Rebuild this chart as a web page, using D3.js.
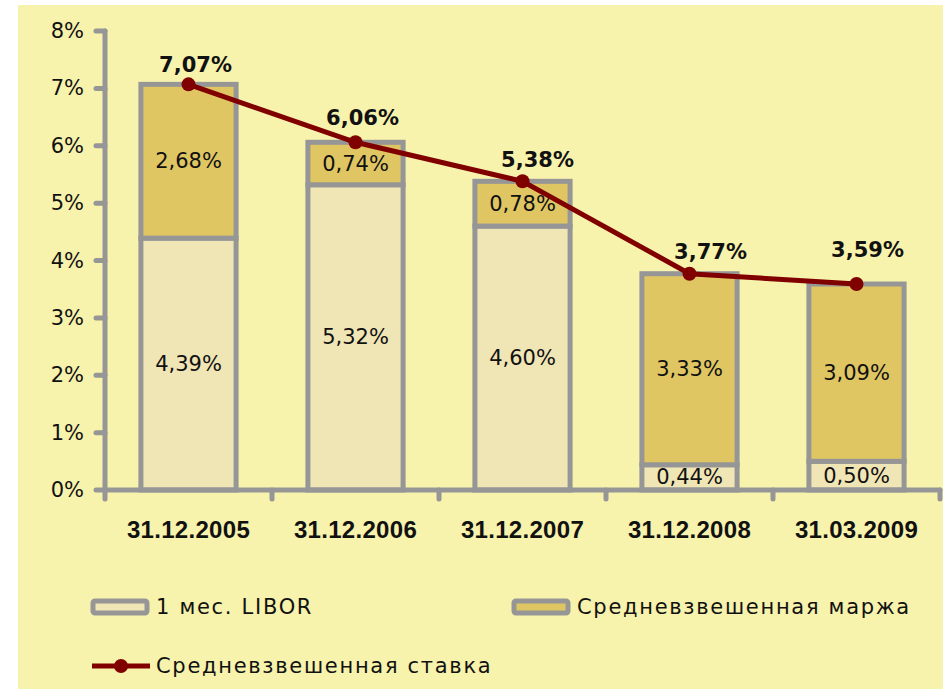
<!DOCTYPE html>
<html>
<head>
<meta charset="utf-8">
<script src="https://cdn.jsdelivr.net/npm/d3@7"></script>
<style>
  body { margin: 0; background: #ffffff; }
  text { fill: #111; }
  .thin { font-family: "DejaVu Sans", sans-serif; }
  .bold { font-family: "DejaVu Sans", sans-serif; font-weight: bold; }
  .xlab { font-family: "Liberation Sans", Arial, sans-serif; font-weight: bold; }
</style>
</head>
<body>
<div id="chart"></div>
<script>
    "use strict";

    // Chart data
    let dates = ["31.12.2005", "31.12.2006", "31.12.2007", "31.12.2008", "31.03.2009"],
        libor = [4.39, 5.32, 4.60, 0.44, 0.50], // 1 мес. LIBOR
        margin = [2.68, 0.74, 0.78, 3.33, 3.09], // Средневзвешенная маржа
        rate = [7.07, 6.06, 5.38, 3.77, 3.59], // Средневзвешенная ставка
        yTicks = [0, 1, 2, 3, 4, 5, 6, 7, 8];

    let config = {
            width: 943,
            height: 689,
            grey: "#969696",
            liborColor: "#F0E5B4",
            marginColor: "#DFC663",
            lineColor: "#800000",
            background: "#F7F2AC",
            // hand-placed rate labels (offset from each point, px)
            labelNudge: [[7, -19], [7, -24], [15, -21], [21, -22], [11, -34]]
        },
        fmt = v => v.toFixed(2).replace(".", ",") + "%";

    let svg = d3.select("#chart")
        .append("svg")
        .attr("width", config.width)
        .attr("height", config.height);

    // Background panel
    svg.append("rect")
        .attr("x", 18)
        .attr("y", 5)
        .attr("width", config.width - 18)
        .attr("height", config.height - 5)
        .style("fill", config.background);

    let x = d3.scaleBand()
        .domain(dates)
        .range([105, 940])
        .paddingInner(0.43)
        .paddingOuter(0.215);

    let y = d3.scaleLinear()
        .domain([0, 8])
        .range([490, 31]);

    // Stacked segments
    let stackData = dates.map((d, i) => ({
        date: d,
        segs: [
            { y0: 0, y1: libor[i], v: libor[i], color: config.liborColor },
            { y0: libor[i], y1: libor[i] + margin[i], v: margin[i], color: config.marginColor }
        ]
    }));

    let bar = svg.selectAll(".bar")
        .data(stackData).enter()
        .append("g")
        .attr("class", "bar")
        .attr("transform", d => "translate(" + x(d.date) + ",0)");

    bar.selectAll("rect")
        .data(d => d.segs).enter()
        .append("rect")
        .attr("x", 0)
        .attr("y", s => y(s.y1))
        .attr("width", x.bandwidth())
        .attr("height", s => y(s.y0) - y(s.y1))
        .attr("fill", s => s.color)
        .attr("stroke", config.grey)
        .attr("stroke-width", 5);

    // Axes
    let axisG = svg.append("g")
        .attr("stroke", config.grey)
        .attr("stroke-width", 5)
        .attr("stroke-linecap", "round");

    axisG.append("line")
        .attr("x1", 105).attr("x2", 105)
        .attr("y1", y(8)).attr("y2", y(0));

    axisG.selectAll(".ytick")
        .data(yTicks).enter()
        .append("line")
        .attr("x1", 96).attr("x2", 105)
        .attr("y1", d => y(d)).attr("y2", d => y(d));

    axisG.append("line")
        .attr("x1", 105).attr("x2", 940)
        .attr("y1", y(0)).attr("y2", y(0));

    let xBounds = dates.map(d => x(d) - x.step() * x.paddingInner() / 2).concat([940]);
    axisG.selectAll(".xtick")
        .data(xBounds).enter()
        .append("line")
        .attr("x1", d => d).attr("x2", d => d)
        .attr("y1", y(0)).attr("y2", y(0) + 9);

    svg.selectAll(".ylabel")
        .data(yTicks).enter()
        .append("text")
        .attr("class", "thin")
        .attr("x", 84)
        .attr("y", d => y(d))
        .attr("text-anchor", "end")
        .attr("dominant-baseline", "central")
        .attr("font-size", 21)
        .text(d => d + "%");

    svg.selectAll(".xlabel")
        .data(dates).enter()
        .append("text")
        .attr("class", "xlab")
        .attr("x", d => x(d) + x.bandwidth() / 2)
        .attr("y", 538)
        .attr("text-anchor", "middle")
        .attr("font-size", 24)
        .attr("letter-spacing", 0.3)
        .text(d => d);

    // Segment labels
    bar.selectAll(".seglabel")
        .data(d => d.segs).enter()
        .append("text")
        .attr("class", "thin")
        .attr("x", x.bandwidth() / 2)
        .attr("y", s => (y(s.y0) + y(s.y1)) / 2)
        .attr("text-anchor", "middle")
        .attr("dominant-baseline", "central")
        .attr("font-size", 21)
        .text(s => fmt(s.v));

    // Line series
    let line = d3.line()
        .x((d, i) => x(dates[i]) + x.bandwidth() / 2)
        .y(d => y(d));

    svg.append("path")
        .datum(rate)
        .attr("d", line)
        .attr("fill", "none")
        .attr("stroke", config.lineColor)
        .attr("stroke-width", 5);

    svg.selectAll(".dot")
        .data(rate).enter()
        .append("circle")
        .attr("cx", (d, i) => x(dates[i]) + x.bandwidth() / 2)
        .attr("cy", d => y(d))
        .attr("r", 7)
        .attr("fill", config.lineColor);

    svg.selectAll(".ratelabel")
        .data(rate).enter()
        .append("text")
        .attr("class", "bold")
        .attr("x", (d, i) => x(dates[i]) + x.bandwidth() / 2 + config.labelNudge[i][0])
        .attr("y", (d, i) => y(d) + config.labelNudge[i][1])
        .attr("text-anchor", "middle")
        .attr("dominant-baseline", "central")
        .attr("font-size", 21)
        .text(d => fmt(d));

    // Legend
    let legend = svg.append("g").attr("class", "legend");

    let boxItems = [
        { label: "1 мес. LIBOR", color: config.liborColor, x: 93, y: 607 },
        { label: "Средневзвешенная маржа", color: config.marginColor, x: 514, y: 607 }
    ];

    legend.selectAll(".lbox")
        .data(boxItems).enter()
        .append("rect")
        .attr("x", d => d.x)
        .attr("y", d => d.y - 6)
        .attr("width", 54)
        .attr("height", 12)
        .attr("rx", 2)
        .attr("fill", d => d.color)
        .attr("stroke", config.grey)
        .attr("stroke-width", 5);

    legend.selectAll(".ltext")
        .data(boxItems).enter()
        .append("text")
        .attr("class", "thin")
        .attr("x", d => d.x + 63)
        .attr("y", d => d.y)
        .attr("dominant-baseline", "central")
        .attr("font-size", 21)
        .attr("letter-spacing", 1.7)
        .text(d => d.label);

    legend.append("line")
        .attr("x1", 92).attr("x2", 150)
        .attr("y1", 666).attr("y2", 666)
        .attr("stroke", config.lineColor)
        .attr("stroke-width", 5);

    legend.append("circle")
        .attr("cx", 121).attr("cy", 666)
        .attr("r", 7)
        .attr("fill", config.lineColor);

    legend.append("text")
        .attr("class", "thin")
        .attr("x", 156)
        .attr("y", 666)
        .attr("dominant-baseline", "central")
        .attr("font-size", 21)
        .attr("letter-spacing", 1.7)
        .text("Средневзвешенная ставка");
</script>
</body>
</html>
